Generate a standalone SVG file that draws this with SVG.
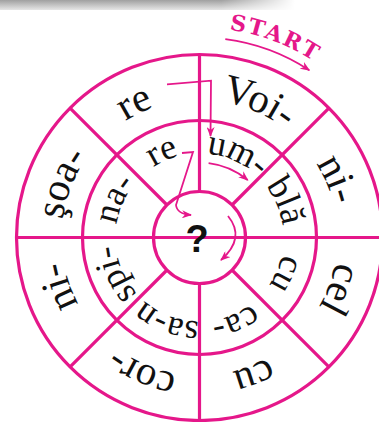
<svg xmlns="http://www.w3.org/2000/svg" xmlns:xlink="http://www.w3.org/1999/xlink" width="379" height="422" viewBox="0 0 379 422">
<style>
.ring{fill:none;stroke:#E5178A;stroke-width:3.2}
.spoke{stroke:#E5178A;stroke-width:3.2;fill:none}
.arr{fill:none;stroke:#E5178A;stroke-width:1.8;marker-end:url(#ah)}
.syl{font-family:"Liberation Serif","Times New Roman",serif;fill:#111;text-anchor:middle}
.outer{font-size:41px}
.mid{font-size:36px}
.start{font-family:"DejaVu Serif",serif;font-weight:bold;font-size:22px;fill:#E5178A;letter-spacing:2px;text-anchor:middle}
.q{font-family:"Liberation Sans",Arial,sans-serif;font-weight:bold;font-size:38px;fill:#111;text-anchor:middle}
</style>
<defs>
<marker id="ah" viewBox="0 0 10 8" refX="9" refY="4" markerWidth="10" markerHeight="8" markerUnits="userSpaceOnUse" orient="auto">
<path d="M0,0 L10,4 L0,8 L3,4 z" fill="#E5178A"/>
</marker>
<path id="po" d="M199.5,99.5 A138,138 0 0 1 199.5,375.5 A138,138 0 0 1 199.5,99.5 A138,138 0 0 1 199.5,375.5 A138,138 0 0 1 199.5,99.5"/>
<path id="pm" d="M199.5,153.5 A84,84 0 0 1 199.5,321.5 A84,84 0 0 1 199.5,153.5 A84,84 0 0 1 199.5,321.5 A84,84 0 0 1 199.5,153.5"/>
<path id="ps" d="M199.5,27.5 A210,210 0 0 1 409.5,237.5"/>
<linearGradient id="shadeV" x1="0" y1="0" x2="0" y2="1"><stop offset="0" stop-color="#a0a0a0"/><stop offset="1" stop-color="#e6e6e6"/></linearGradient>
<linearGradient id="fadeH" x1="0" y1="0" x2="1" y2="0"><stop offset="0.75" stop-color="#fff"/><stop offset="1" stop-color="#000"/></linearGradient>
<mask id="fm"><rect x="0" y="0" width="295" height="11" fill="url(#fadeH)"/></mask>
</defs>
<rect width="379" height="422" fill="#fff"/>
<rect x="0" y="0" width="295" height="10" fill="url(#shadeV)" mask="url(#fm)"/>

<g id="wheel">
<circle class="ring" cx="199.5" cy="237.5" r="183"/>
<circle class="ring" cx="199.5" cy="237.5" r="117"/>
<line class="spoke" x1="199.5" y1="54.5" x2="199.5" y2="191.5"/>
<line class="spoke" x1="199.5" y1="283.5" x2="199.5" y2="420.5"/>
<line class="spoke" x1="16.5" y1="237.5" x2="382.5" y2="237.5"/>
<line class="spoke" x1="232" y1="205" x2="328.9" y2="108.1"/>
<line class="spoke" x1="232" y1="270" x2="328.9" y2="366.9"/>
<line class="spoke" x1="167" y1="270" x2="70.1" y2="366.9"/>
<line class="spoke" x1="167" y1="205" x2="70.1" y2="108.1"/>
</g>

<g id="hub">
<circle class="ring" cx="199.5" cy="237.5" r="46"/>
<text class="q" x="197" y="252">?</text>
</g>

<g id="outer-syllables" class="syl outer">
<text><textPath href="#po" xlink:href="#po" startOffset="3.3%">Voi-</textPath></text>
<text><textPath href="#po" xlink:href="#po" startOffset="9.3%">ni-</textPath></text>
<text><textPath href="#po" xlink:href="#po" startOffset="15.3%">cel</textPath></text>
<text><textPath href="#po" xlink:href="#po" startOffset="22%">cu</textPath></text>
<text><textPath href="#po" xlink:href="#po" startOffset="28.2%">cor-</textPath></text>
<text><textPath href="#po" xlink:href="#po" startOffset="34.8%">ni-</textPath></text>
<text><textPath href="#po" xlink:href="#po" startOffset="40.5%">şoa-</textPath></text>
<text><textPath href="#po" xlink:href="#po" startOffset="46.4%">re</textPath></text>
</g>

<g id="middle-syllables" class="syl mid">
<text><textPath href="#pm" xlink:href="#pm" startOffset="3.4%">um-</textPath></text>
<text><textPath href="#pm" xlink:href="#pm" startOffset="9.3%">blă</textPath></text>
<text><textPath href="#pm" xlink:href="#pm" startOffset="15.7%">cu</textPath></text>
<text><textPath href="#pm" xlink:href="#pm" startOffset="21.8%">ca-</textPath></text>
<text><textPath href="#pm" xlink:href="#pm" startOffset="27.9%">sa-n</textPath></text>
<text><textPath href="#pm" xlink:href="#pm" startOffset="34.2%">spi-</textPath></text>
<text><textPath href="#pm" xlink:href="#pm" startOffset="40.9%">na-</textPath></text>
<text><textPath href="#pm" xlink:href="#pm" startOffset="46.7%">re</textPath></text>
</g>

<g id="start">
<text class="start"><textPath href="#ps" xlink:href="#ps" startOffset="76">START</textPath></text>
</g>

<g id="connectors">
<path class="arr" d="M225.3,39.2 A200,200 0 0 1 309.3,70.3"/>
<path class="arr" d="M167,84.3 L211,80.7 L210.5,136"/>
<path class="arr" d="M208.6,163.1 A75,75 0 0 1 247.7,180"/>
<path class="arr" d="M182,153 L193,152 L176,205 Q177,214 191,215"/>
<path class="arr" d="M228,216 Q246,238 221,260"/>
</g>
</svg>
